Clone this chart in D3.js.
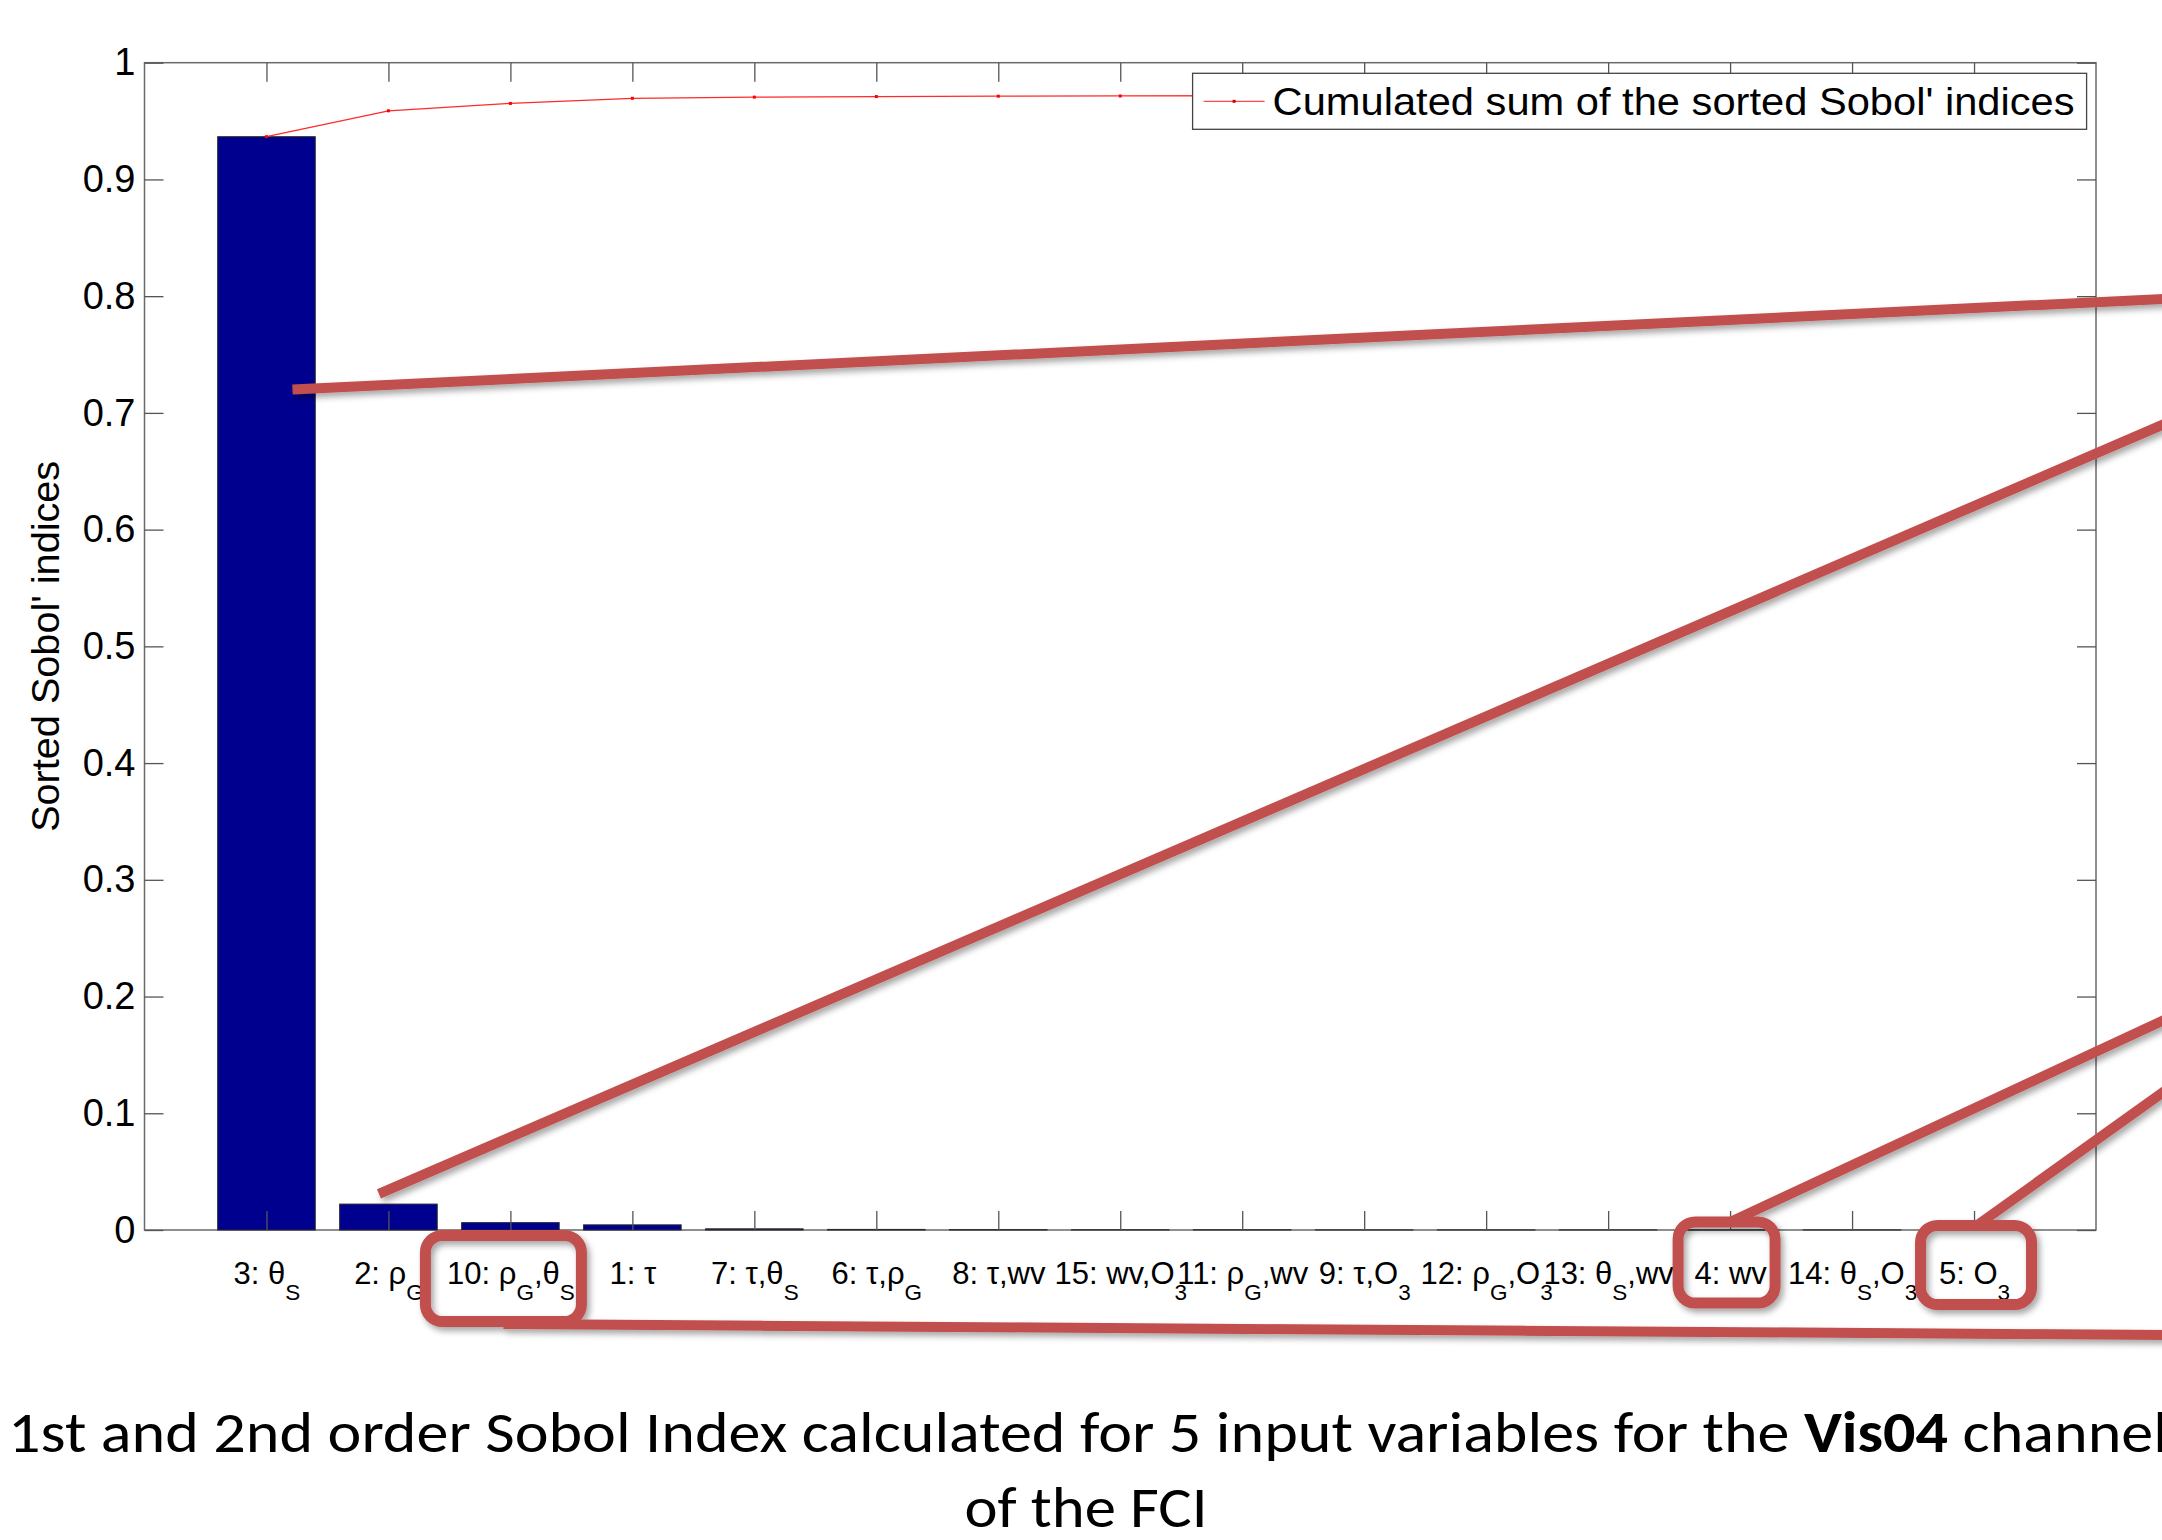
<!DOCTYPE html>
<html>
<head>
<meta charset="utf-8">
<script src="https://cdn.jsdelivr.net/npm/d3@7"></script>
<style>
  html, body { margin: 0; padding: 0; background: #fff; }
  svg { display: block; }
  .tick text { font-family: "Liberation Sans", Arial, Helvetica, sans-serif; fill: #000; }
</style>
</head>
<body>
<svg id="chart" width="2162" height="1540"></svg>
<script>
// Sorted first and second order Sobol' indices (labels use "_X" for a subscript character)
const categories = [
  "3: θ_S", "2: ρ_G", "10: ρ_G,θ_S", "1: τ", "7: τ,θ_S", "6: τ,ρ_G", "8: τ,wv",
  "15: wv,O_3", "11: ρ_G,wv", "9: τ,O_3", "12: ρ_G,O_3", "13: θ_S,wv", "4: wv",
  "14: θ_S,O_3", "5: O_3"
];
const sobolIndices = [
  0.9366, 0.0222, 0.0063, 0.0044, 0.0010, 0.0005, 0.0003, 0.0002,
  0.0002, 0.0001, 0.0001, 0.0001, 0.0001, 0.0001, 0.0001
];
const yTicks = [0, 0.1, 0.2, 0.3, 0.4, 0.5, 0.6, 0.7, 0.8, 0.9, 1];
const yTickLabels = ["0", "0.1", "0.2", "0.3", "0.4", "0.5", "0.6", "0.7", "0.8", "0.9", "1"];
const yLabel = "Sorted Sobol' indices";
const legendLabel = "Cumulated sum of the sorted Sobol' indices";
const captionLine1 = [{ t: "1st and 2nd order Sobol Index calculated for 5 input variables for the ", b: false },
                      { t: "Vis04", b: true }, { t: " channel", b: false }];
const captionLine2 = "of the FCI";

const W = 2162, H = 1540;
const plot = { left: 144.5, right: 2096, top: 62.7, bottom: 1230 };
const svg = d3.select("#chart");
const FONT = "'Liberation Sans', Arial, Helvetica, sans-serif";

// drop shadow for the callout shapes
const defs = svg.append("defs");
const f = defs.append("filter").attr("id", "shadow")
  .attr("x", "-20%").attr("y", "-50%").attr("width", "140%").attr("height", "200%");
f.append("feDropShadow").attr("dx", 3).attr("dy", 4).attr("stdDeviation", 3)
  .attr("flood-color", "#000").attr("flood-opacity", 0.35);

const x = d3.scaleLinear().domain([0, categories.length + 1]).range([plot.left, plot.right]);
const y = d3.scaleLinear().domain([0, 1]).range([plot.bottom, plot.top]);
const idx = d3.range(1, categories.length + 1);

// plot frame
svg.append("rect")
  .attr("x", plot.left).attr("y", plot.top)
  .attr("width", plot.right - plot.left).attr("height", plot.bottom - plot.top)
  .attr("fill", "#fff").attr("stroke", "#6a6a6a").attr("stroke-width", 1.5);

// bars
const barW = x(0.8) - x(0);
svg.append("g").selectAll("rect").data(sobolIndices).join("rect")
  .attr("x", (d, i) => x(i + 1) - barW / 2)
  .attr("y", d => y(d))
  .attr("width", barW)
  .attr("height", d => y(0) - y(d))
  .attr("fill", "#00008f")
  .attr("stroke", "#2a2a2a").attr("stroke-width", 1);

// axes with inward ticks on all four sides
const tickLen = 19;
const axisStyle = g => {
  g.select(".domain").remove();
  g.selectAll(".tick line").attr("stroke", "#555").attr("stroke-width", 1.3);
};
svg.append("g").attr("transform", `translate(${plot.left},0)`)
  .call(d3.axisLeft(y).tickValues(yTicks).tickFormat((d, i) => yTickLabels[i])
        .tickSize(-tickLen).tickSizeOuter(0).tickPadding(9))
  .call(axisStyle)
  .call(g => g.selectAll(".tick text").attr("font-size", 38).attr("font-family", FONT));
svg.append("g").attr("transform", `translate(${plot.right},0)`)
  .call(d3.axisRight(y).tickValues(yTicks).tickFormat("").tickSize(-tickLen).tickSizeOuter(0))
  .call(axisStyle);
svg.append("g").attr("transform", `translate(0,${plot.top})`)
  .call(d3.axisTop(x).tickValues(idx).tickFormat("").tickSize(-tickLen).tickSizeOuter(0))
  .call(axisStyle);
const xAxis = svg.append("g").attr("transform", `translate(0,${plot.bottom})`)
  .call(d3.axisBottom(x).tickValues(idx).tickFormat("").tickSize(-tickLen).tickSizeOuter(0))
  .call(axisStyle);

// category labels with subscripts
function parseTex(s) {
  const parts = [];
  let buf = "";
  for (let i = 0; i < s.length; i++) {
    if (s[i] === "_" && i + 1 < s.length) {
      if (buf) parts.push({ t: buf, sub: false });
      parts.push({ t: s[i + 1], sub: true });
      buf = "";
      i++;
    } else buf += s[i];
  }
  if (buf) parts.push({ t: buf, sub: false });
  return parts;
}
const mainSize = 31, subSize = 22.5, subShift = 16;
xAxis.selectAll(".tick").each(function (d) {
  const t = d3.select(this).append("text")
    .attr("y", 54).attr("text-anchor", "middle")
    .attr("font-size", mainSize).attr("font-family", FONT).attr("fill", "#000");
  let shifted = false;
  parseTex(categories[d - 1]).forEach(p => {
    const ts = t.append("tspan").text(p.t);
    if (p.sub) {
      ts.attr("font-size", subSize).attr("dy", shifted ? 0 : subShift);
      shifted = true;
    } else {
      ts.attr("dy", shifted ? -subShift : 0);
      shifted = false;
    }
  });
});

// y axis title
svg.append("text")
  .attr("transform", `translate(59,${(plot.top + plot.bottom) / 2}) rotate(-90)`)
  .attr("text-anchor", "middle")
  .attr("font-family", FONT).attr("font-size", 38)
  .attr("textLength", 371).attr("lengthAdjust", "spacingAndGlyphs")
  .text(yLabel);

// cumulated sum line with point markers
const cumulated = Array.from(d3.cumsum(sobolIndices));
svg.append("path").datum(cumulated)
  .attr("fill", "none").attr("stroke", "#ff2a2a").attr("stroke-width", 1.3)
  .attr("d", d3.line().x((d, i) => x(i + 1)).y(d => y(d)));
svg.append("g").selectAll("rect").data(cumulated).join("rect")
  .attr("x", (d, i) => x(i + 1) - 1.5).attr("y", d => y(d) - 1.5)
  .attr("width", 3).attr("height", 3).attr("fill", "#ff0000");

// legend
const lg = svg.append("g").attr("transform", "translate(1192.6,73.3)");
lg.append("rect").attr("width", 894).attr("height", 56)
  .attr("fill", "#fff").attr("stroke", "#444").attr("stroke-width", 1.3);
lg.append("line").attr("x1", 11).attr("x2", 72).attr("y1", 28).attr("y2", 28)
  .attr("stroke", "#ff4a4a").attr("stroke-width", 1.3);
lg.append("rect").attr("x", 40).attr("y", 26.5).attr("width", 3).attr("height", 3).attr("fill", "#d00000");
lg.append("text").attr("x", 80).attr("y", 41.5)
  .attr("font-family", FONT).attr("font-size", 39)
  .attr("textLength", 802).attr("lengthAdjust", "spacingAndGlyphs")
  .text(legendLabel);

// callouts: highlight boxes around labels and leader lines towards the right
const red = "#c0504d";
const boxes = [
  { cat: 3, dx: -7, w: 156, top: 1235.5, h: 86 },
  { cat: 13, dx: -3.5, w: 97, top: 1222, h: 81 },
  { cat: 15, dx: 2, w: 111, top: 1225.5, h: 79 }
];
const leaders = [
  { x0: x(1) + 26, y0: y(0.72), y1: 299 },
  { x0: x(2) - 9.5, y0: y(0.031), y1: 425 },
  { x0: x(13) - 2, y0: 1223, y1: 1021 },
  { x0: x(15) + 2, y0: 1226, y1: 1093 },
  { x0: x(3) - 7, y0: 1324, y1: 1335 }
];
const ann = svg.append("g").attr("filter", "url(#shadow)");
ann.selectAll("line").data(leaders).join("line")
  .attr("x1", d => d.x0).attr("y1", d => d.y0)
  .attr("x2", W + 10).attr("y2", d => d.y1 + (d.y1 - d.y0) * 10 / (W - d.x0))
  .attr("stroke", red).attr("stroke-width", 10);
ann.selectAll("rect").data(boxes).join("rect")
  .attr("x", d => x(d.cat) + d.dx - d.w / 2).attr("y", d => d.top)
  .attr("width", d => d.w).attr("height", d => d.h)
  .attr("rx", 17).attr("ry", 17)
  .attr("fill", "none").attr("stroke", red).attr("stroke-width", 11);

// caption below the chart
const CAP_FONT = "Carlito, Calibri, 'Open Sans', sans-serif";
function captionLine(parts, cx, baseline, targetWidth) {
  const g = svg.append("g");
  const t = g.append("text").attr("text-anchor", "middle")
    .attr("font-family", CAP_FONT).attr("font-size", 58).attr("fill", "#000");
  parts.forEach(p => t.append("tspan").text(p.t).attr("font-weight", p.b ? 700 : 400));
  const w = t.node().getComputedTextLength();
  g.attr("transform", `translate(${cx},${baseline}) scale(${targetWidth / w},1)`);
}
captionLine(captionLine1, 1088, 1451.7, 2160);
captionLine([{ t: captionLine2, b: false }], 1086, 1527, 243);
</script>
</body>
</html>
